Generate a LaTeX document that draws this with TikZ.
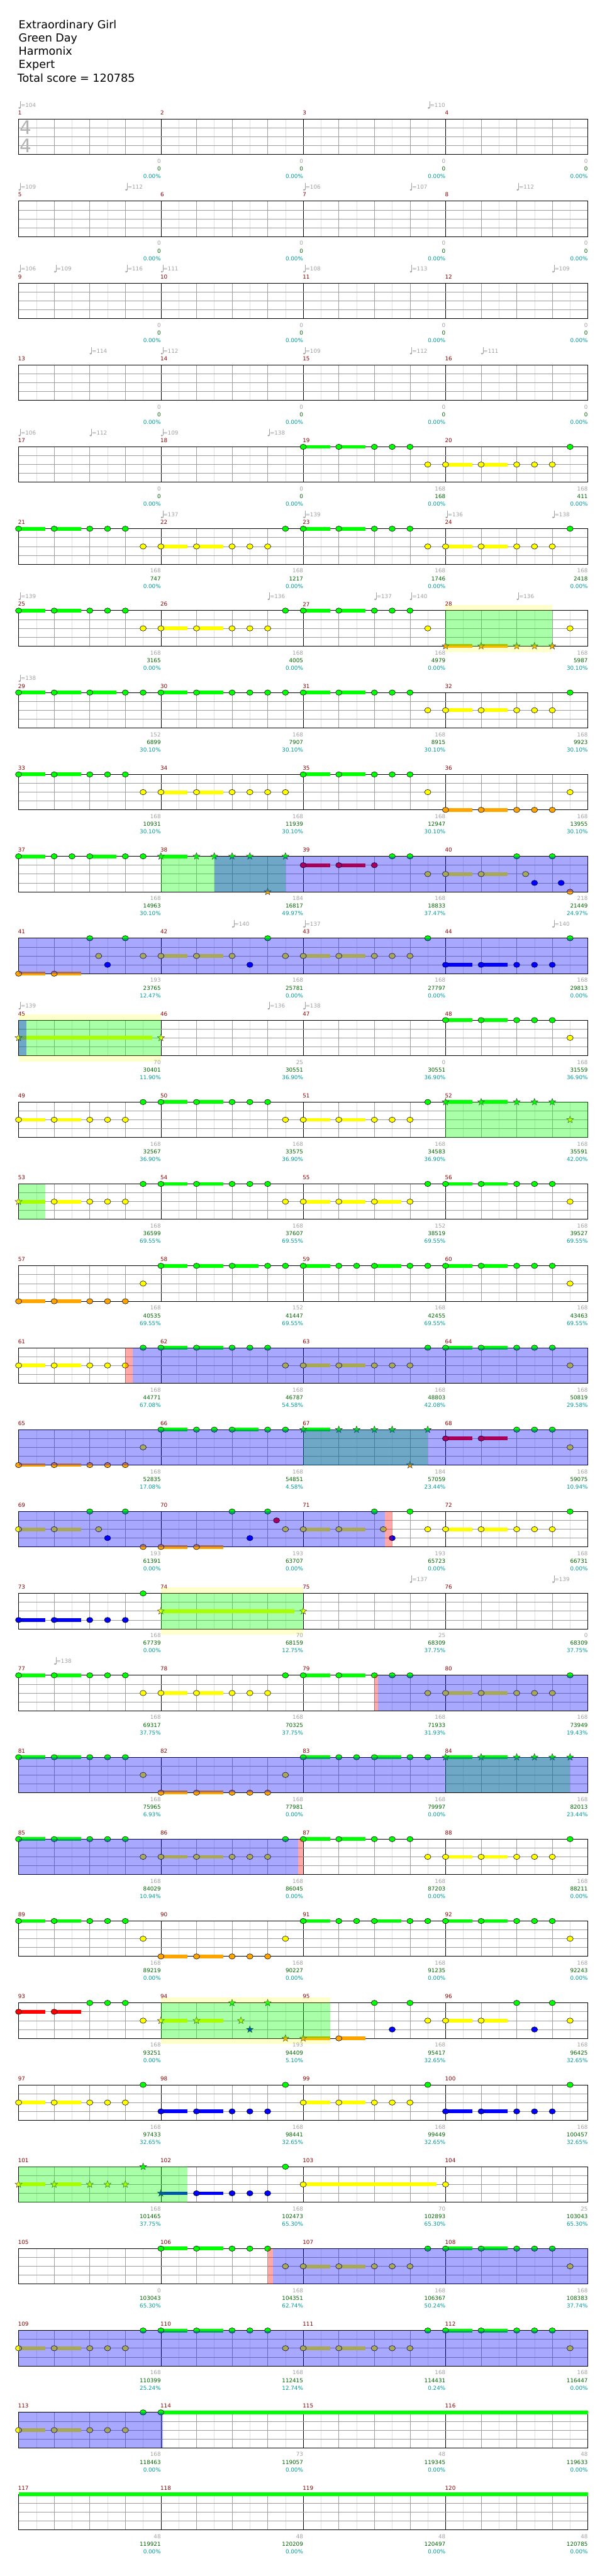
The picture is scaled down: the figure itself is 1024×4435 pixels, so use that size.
\documentclass[tikz,border=0pt]{standalone}
\usepackage{fontspec}
\setmainfont{DejaVu Sans}
\usetikzlibrary{shapes.geometric}

\definecolor{lane0}{RGB}{0,255,0}
\definecolor{lane1}{RGB}{255,0,0}
\definecolor{lane2}{RGB}{255,255,0}
\definecolor{lane3}{RGB}{0,0,255}
\definecolor{lane4}{RGB}{255,165,0}
\definecolor{barred}{RGB}{139,0,0}
\definecolor{softgray}{RGB}{160,160,160}
\definecolor{scoregreen}{RGB}{0,100,0}
\definecolor{pctteal}{RGB}{0,153,153}

% row r: staff top at 205.3+141(r-1), one eighth = 30.625
\newcommand{\frets}[2]{%
  \pgfmathsetmacro\rowy{205.3+141*(#1-1)}%
  \foreach \pos/\lane/\sus in {#2} {
    \pgfmathsetmacro\nx{32+30.625*\pos}
    \pgfmathsetmacro\ny{\rowy+15.25*\lane}
    \fill[lane\lane] (\nx,\ny-3.2) rectangle ({\nx+30.625*\sus},\ny+3.2);
    \draw[notehead,fill=lane\lane] (\nx,\ny) ellipse (5.4 and 4.6);
  }}
\newcommand{\spnotes}[2]{%
  \pgfmathsetmacro\rowy{205.3+141*(#1-1)}%
  \foreach \pos/\lane/\sus [count=\k] in {#2} {
    \pgfmathsetmacro\nx{32+30.625*\pos}
    \pgfmathsetmacro\ny{\rowy+15.25*\lane}
    \fill[lane\lane] (\nx,\ny-3.2) rectangle ({\nx+30.625*\sus},\ny+3.2);
    \node[spstar,fill=lane\lane] (sp#1-\k) at (\nx,\ny) {};
  }}
\newcommand{\paint}[4]{%
  \pgfmathsetmacro\rowy{205.3+141*(#1-1)}%
  \fill[#4] ({32+30.625*#2},\rowy) rectangle ({32+30.625*#3},\rowy+61);}
\newcommand{\yband}[3]{%
  \pgfmathsetmacro\rowy{205.3+141*(#1-1)}%
  \fill[bandfill] ({32+30.625*#2},\rowy-10) rectangle ({32+30.625*#3},\rowy);
  \fill[bandfill] ({32+30.625*#2},\rowy+61) rectangle ({32+30.625*#3},\rowy+71);}
\newcommand{\tempo}[3]{%
  \pgfmathsetmacro\rowy{205.3+141*(#1-1)}%
  \pgfmathsetmacro\tx{32+30.625*#2}%
  \fill[softgray] (\tx+1.6,\rowy-19.5) ellipse (1.9 and 1.5);
  \draw[softgray,line width=0.6pt] (\tx+3.2,\rowy-19.5) -- (\tx+3.2,\rowy-31);
  \node[bpmlabel] (bpm#1-#2) at (\tx+3.6,\rowy-24.3) {=#3};}
\newcommand{\scores}[2]{%
  \pgfmathsetmacro\rowy{205.3+141*(#1-1)}%
  \foreach \ga/\tot/\pc [count=\k] in {#2} {
    \node[gainlabel] (gain#1-\k) at ({32+245*\k},\rowy+72.4) {\ga};
    \node[scorelabel] (score#1-\k) at ({32+245*\k},\rowy+85.7) {\tot};
    \node[pctlabel] (pct#1-\k) at ({32+245*\k},\rowy+98.7) {\pc\%};
  }}

\begin{document}
\begin{tikzpicture}[x=1pt,y=-1pt,
  notehead/.style={draw=black,line width=0.6pt},
  spstar/.style={star,star points=5,star point ratio=2.4,minimum size=12.5pt,inner sep=0pt,draw=black!80,line width=0.5pt},
  act/.style={fill=lane3,fill opacity=0.34},
  phrase/.style={fill=lane0,fill opacity=0.34},
  spark/.style={fill=lane1,fill opacity=0.34},
  bandfill/.style={fill=lane2,fill opacity=0.2},
  eighthline/.style={draw=black!12,line width=0.5pt},
  beatline/.style={draw=black!38,line width=0.6pt},
  barline/.style={draw=black,line width=0.6pt},
  laneline/.style={draw=black!38,line width=0.8pt},
  staffframe/.style={draw=black,line width=1pt},
  smalltext/.style={font=\fontsize{9.5}{11}\selectfont,inner sep=0pt},
  barlabel/.style={smalltext,anchor=west,text=barred},
  gainlabel/.style={smalltext,anchor=east,text=softgray},
  scorelabel/.style={smalltext,anchor=east,text=scoregreen},
  pctlabel/.style={smalltext,anchor=east,text=pctteal},
  bpmlabel/.style={smalltext,anchor=west,text=softgray},
  heading/.style={anchor=base west,inner sep=0pt,font=\fontsize{19}{23}\selectfont},
  timesig/.style={inner sep=0pt,text=black!30,font=\fontsize{32}{32}\selectfont}]
\useasboundingbox (0,0) rectangle (1024,4435);

% header
\node[heading] (song) at (32,49) {Extraordinary Girl};
\node[heading] (artist) at (32,72) {Green Day};
\node[heading] (charter) at (32,95) {Harmonix};
\node[heading] (level) at (32,118) {Expert};
\node[heading] (total) at (30,141) {Total score = 120785};

% staves
\foreach \r in {1,...,30} {
  \pgfmathsetmacro\rowy{205.3+141*(\r-1)}
  \foreach \e in {1,3,...,31}
    \draw[eighthline] ({32+30.625*\e},\rowy) -- ++(0,61);
  \foreach \e in {2,4,6,10,12,14,18,20,22,26,28,30}
    \draw[beatline] ({32+30.625*\e},\rowy) -- ++(0,61);
  \foreach \e in {8,16,24}
    \draw[barline] ({32+30.625*\e},\rowy) -- ++(0,61);
  \foreach \h in {15.25,30.5,45.75}
    \draw[laneline] (32,\rowy+\h) -- (1012,\rowy+\h);
  \draw[staffframe] (32,\rowy) rectangle (1012,\rowy+61);
  \foreach \j [evaluate=\j as \m using int(4*(\r-1)+\j+1)] in {0,...,3}
    \node[barlabel] (bar\m) at ({31+245*\j},\rowy-11) {\m};
}
\node[timesig] (sigtop) at (44,220) {4};
\node[timesig] (sigbot) at (44,251) {4};

% tempo changes
\tempo{1}{0}{104} \tempo{1}{23}{110}
\tempo{2}{0}{109} \tempo{2}{6}{112} \tempo{2}{16}{106} \tempo{2}{22}{107} \tempo{2}{28}{112}
\tempo{3}{0}{106} \tempo{3}{2}{109} \tempo{3}{6}{116} \tempo{3}{8}{111} \tempo{3}{16}{108} \tempo{3}{22}{113} \tempo{3}{30}{109}
\tempo{4}{4}{114} \tempo{4}{8}{112} \tempo{4}{16}{109} \tempo{4}{22}{112} \tempo{4}{26}{111}
\tempo{5}{0}{106} \tempo{5}{4}{112} \tempo{5}{8}{109} \tempo{5}{14}{138}
\tempo{6}{8}{137} \tempo{6}{16}{139} \tempo{6}{24}{136} \tempo{6}{30}{138}
\tempo{7}{0}{139} \tempo{7}{14}{136} \tempo{7}{20}{137} \tempo{7}{22}{140} \tempo{7}{28}{136}
\tempo{8}{0}{138}
\tempo{11}{12}{140} \tempo{11}{16}{137} \tempo{11}{30}{140}
\tempo{12}{0}{139} \tempo{12}{14}{136} \tempo{12}{16}{138}
\tempo{19}{22}{137} \tempo{19}{30}{139}
\tempo{20}{2}{138}

% notes: position in eighths / lane / sustain
\frets{5}{16/0/1.5,18/0/1.5,20/0/0,21/0/0,22/0/0,31/0/0,
  23/2/0,24/2/1.5,26/2/1.5,28/2/0,29/2/0,30/2/0}
\frets{6}{0/0/1.5,2/0/1.5,4/0/0,5/0/0,6/0/0,15/0/0,16/0/1.5,18/0/1.5,20/0/0,21/0/0,22/0/0,31/0/0,
  7/2/0,8/2/1.5,10/2/1.5,12/2/0,13/2/0,14/2/0,23/2/0,24/2/1.5,26/2/1.5,28/2/0,29/2/0,30/2/0}
\frets{7}{0/0/1.5,2/0/1.5,4/0/0,5/0/0,6/0/0,15/0/0,16/0/1.5,18/0/1.5,20/0/0,21/0/0,22/0/0,
  7/2/0,8/2/1.5,10/2/1.5,12/2/0,13/2/0,14/2/0,23/2/0,31/2/0}
\spnotes{7}{24/4/1.5,26/4/1.5,28/4/0,29/4/0,30/4/0}
\frets{8}{0/0/1.5,2/0/1.5,4/0/1.5,6/0/0,7/0/0,8/0/1.5,10/0/1.5,12/0/0,13/0/0,14/0/0,15/0/0,16/0/1.5,18/0/1.5,20/0/0,21/0/0,22/0/0,31/0/0,
  23/2/0,24/2/1.5,26/2/1.5,28/2/0,29/2/0,30/2/0}
\frets{9}{0/0/1.5,2/0/1.5,4/0/0,5/0/0,6/0/0,16/0/1.5,18/0/1.5,20/0/0,21/0/0,22/0/0,
  7/2/0,8/2/1.5,10/2/1.5,12/2/0,13/2/0,14/2/0,15/2/0,23/2/0,31/2/0,
  24/4/1.5,26/4/1.5,28/4/0,29/4/0,30/4/0}
\frets{10}{0/0/1.5,2/0/0,3/0/0,4/0/1.5,6/0/0,7/0/0,21/0/0,22/0/0,28/0/0,30/0/0,
  16/1/1.5,18/1/1.5,20/1/0,23/2/0,24/2/1.5,26/2/1.5,28.5/2/0,29/3/0,30.5/3/0,31/4/0}
\spnotes{10}{8/0/1.5,10/0/0,11/0/0,12/0/0,13/0/0,15/0/0,14/4/0}
\frets{11}{0/4/1.5,2/4/1.5,4/0/0,6/0/0,14/0/0,23/0/0,31/0/0,
  4.5/2/0,7/2/0,8/2/1.5,10/2/1.5,12/2/0,15/2/0,16/2/1.5,18/2/1.5,20/2/0,21/2/0,22/2/0,
  5/3/0,13/3/0,24/3/1.5,26/3/1.5,28/3/0,29/3/0,30/3/0}
\frets{12}{24/0/1.5,26/0/1.5,28/0/0,29/0/0,30/0/0,31/2/0}
\spnotes{12}{0/2/7.5,8/2/0}
\frets{13}{0/2/1.5,2/2/1.5,4/2/0,5/2/0,6/2/0,15/2/0,16/2/1.5,18/2/1.5,20/2/0,21/2/0,22/2/0,
  7/0/0,8/0/1.5,10/0/1.5,12/0/0,13/0/0,14/0/0,23/0/0}
\spnotes{13}{24/0/1.5,26/0/1.5,28/0/0,29/0/0,30/0/0,31/2/0}
\frets{14}{2/2/1.5,4/2/0,5/2/0,6/2/0,15/2/0,16/2/1.5,18/2/1.5,20/2/1.5,22/2/0,31/2/0,
  7/0/0,8/0/1.5,10/0/1.5,12/0/0,13/0/0,14/0/0,23/0/0,24/0/1.5,26/0/1.5,28/0/0,29/0/0,30/0/0}
\spnotes{14}{0/2/1.5}
\frets{15}{0/4/1.5,2/4/1.5,4/4/0,5/4/0,6/4/0,7/2/0,31/2/0,
  8/0/1.5,10/0/1.5,12/0/1.5,14/0/0,15/0/0,16/0/1.5,18/0/0,19/0/0,20/0/1.5,22/0/0,23/0/0,24/0/1.5,26/0/1.5,28/0/0,29/0/0,30/0/0}
\frets{16}{0/2/1.5,2/2/1.5,4/2/0,5/2/0,6/2/0,15/2/0,16/2/1.5,18/2/1.5,20/2/0,21/2/0,22/2/0,31/2/0,
  7/0/0,8/0/1.5,10/0/1.5,12/0/0,13/0/0,14/0/0,23/0/0,24/0/1.5,26/0/1.5,28/0/0,29/0/0,30/0/0}
\frets{17}{0/4/1.5,2/4/1.5,4/4/0,5/4/0,6/4/0,7/2/0,31/2/0,
  8/0/1.5,10/0/0,11/0/0,12/0/1.5,14/0/0,15/0/0,28/0/0,29/0/0,30/0/0,24/1/1.5,26/1/1.5}
\spnotes{17}{16/0/1.5,18/0/0,19/0/0,20/0/0,21/0/0,23/0/0,22/4/0}
\frets{18}{0/2/1.5,2/2/1.5,4.5/2/0,15/2/0,16/2/1.5,18/2/1.5,20.5/2/0,23/2/0,24/2/1.5,26/2/1.5,28/2/0,29/2/0,30/2/0,
  4/0/0,6/0/0,12/0/0,14/0/0,20/0/0,22/0/0,31/0/0,5/3/0,13/3/0,21/3/0,
  7/4/0,8/4/1.5,10/4/1.5,14.5/1/0}
\frets{19}{0/3/1.5,2/3/1.5,4/3/0,5/3/0,6/3/0,7/0/0}
\spnotes{19}{8/2/7.5,16/2/0}
\frets{20}{0/0/1.5,2/0/1.5,4/0/0,5/0/0,6/0/0,15/0/0,16/0/1.5,18/0/1.5,20/0/0,21/0/0,22/0/0,31/0/0,
  7/2/0,8/2/1.5,10/2/1.5,12/2/0,13/2/0,14/2/0,23/2/0,24/2/1.5,26/2/1.5,28/2/0,29/2/0,30/2/0}
\frets{21}{0/0/1.5,2/0/1.5,4/0/0,5/0/0,6/0/0,16/0/1.5,18/0/0,19/0/0,20/0/1.5,22/0/0,23/0/0,
  7/2/0,15/2/0,8/4/1.5,10/4/1.5,12/4/0,13/4/0,14/4/0}
\spnotes{21}{24/0/1.5,26/0/1.5,28/0/0,29/0/0,30/0/0,31/0/0}
\frets{22}{0/0/1.5,2/0/1.5,4/0/0,5/0/0,6/0/0,15/0/0,16/0/1.5,18/0/1.5,20/0/0,21/0/0,22/0/0,31/0/0,
  7/2/0,8/2/1.5,10/2/1.5,12/2/0,13/2/0,14/2/0,23/2/0,24/2/1.5,26/2/1.5,28/2/0,29/2/0,30/2/0}
\frets{23}{0/0/1.5,2/0/1.5,4/0/0,5/0/0,6/0/0,16/0/1.5,18/0/0,19/0/0,20/0/1.5,22/0/0,23/0/0,24/0/1.5,26/0/1.5,28/0/0,29/0/0,30/0/0,
  7/2/0,15/2/0,31/2/0,8/4/1.5,10/4/1.5,12/4/0,13/4/0,14/4/0}
\frets{24}{0/1/1.5,2/1/1.5,4/0/0,5/0/0,6/0/0,20/0/0,22/0/0,28/0/0,30/0/0,
  7/2/0,23/2/0,24/2/1.5,26/2/1.5,31/2/0,21/3/0,29/3/0,18/4/1.5}
\spnotes{24}{12/0/0,14/0/0,8/2/1.5,10/2/1.5,12.5/2/0,13/3/0,15/4/0,16/4/1.5}
\frets{25}{0/2/1.5,2/2/1.5,4/2/0,5/2/0,6/2/0,16/2/1.5,18/2/1.5,20/2/0,21/2/0,22/2/0,
  7/0/0,15/0/0,23/0/0,31/0/0,
  8/3/1.5,10/3/1.5,12/3/0,13/3/0,14/3/0,24/3/1.5,26/3/1.5,28/3/0,29/3/0,30/3/0}
\frets{26}{10/3/1.5,12/3/0,13/3/0,14/3/0,15/0/0,16/2/7.5,24/2/0}
\spnotes{26}{0/2/1.5,2/2/1.5,4/2/0,5/2/0,6/2/0,7/0/0,8/3/1.5}
\frets{27}{8/0/1.5,10/0/1.5,12/0/0,13/0/0,14/0/0,23/0/0,24/0/1.5,26/0/1.5,28/0/0,29/0/0,30/0/0,
  15/2/0,16/2/1.5,18/2/1.5,20/2/0,21/2/0,22/2/0,31/2/0}
\frets{28}{0/2/1.5,2/2/1.5,4/2/0,5/2/0,6/2/0,15/2/0,16/2/1.5,18/2/1.5,20/2/0,21/2/0,22/2/0,31/2/0,
  7/0/0,8/0/1.5,10/0/1.5,12/0/0,13/0/0,14/0/0,23/0/0,24/0/1.5,26/0/1.5,28/0/0,29/0/0,30/0/0}
\frets{29}{0/2/1.5,2/2/1.5,4/2/0,5/2/0,6/2/0,7/0/0,8/0/24}
\fill[lane0] (32,4291.1) rectangle (1012,4297.5);

% star power phrases and activations
\yband{7}{24}{30}   \paint{7}{24}{30}{phrase}
\paint{10}{8}{15}{phrase} \paint{10}{11}{32}{act}
\paint{11}{0}{32}{act}
\yband{12}{0}{8}    \paint{12}{0}{8}{phrase} \paint{12}{0}{0.43}{act}
\paint{13}{24}{32}{phrase}
\paint{14}{0}{1.5}{phrase}
\paint{16}{6}{6.4}{spark} \paint{16}{6.4}{32}{act}
\paint{17}{16}{23}{phrase} \paint{17}{0}{32}{act}
\paint{18}{0}{20.6}{act} \paint{18}{20.6}{21}{spark}
\yband{19}{8}{16}   \paint{19}{8}{16}{phrase}
\paint{20}{20}{20.2}{spark} \paint{20}{20.2}{32}{act}
\paint{21}{24}{31}{phrase} \paint{21}{0}{32}{act}
\paint{22}{0}{15.7}{act} \paint{22}{15.7}{16}{spark}
\yband{24}{8}{17.5} \paint{24}{8}{17.5}{phrase}
\paint{26}{0}{9.5}{phrase}
\paint{27}{14}{14.3}{spark} \paint{27}{14.3}{32}{act}
\paint{28}{0}{32}{act}
\paint{29}{0}{8.1}{act}

% per-measure figures
\scores{1}{0/0/0.00,0/0/0.00,0/0/0.00,0/0/0.00}
\scores{2}{0/0/0.00,0/0/0.00,0/0/0.00,0/0/0.00}
\scores{3}{0/0/0.00,0/0/0.00,0/0/0.00,0/0/0.00}
\scores{4}{0/0/0.00,0/0/0.00,0/0/0.00,0/0/0.00}
\scores{5}{0/0/0.00,0/0/0.00,168/168/0.00,168/411/0.00}
\scores{6}{168/747/0.00,168/1217/0.00,168/1746/0.00,168/2418/0.00}
\scores{7}{168/3165/0.00,168/4005/0.00,168/4979/0.00,168/5987/30.10}
\scores{8}{152/6899/30.10,168/7907/30.10,168/8915/30.10,168/9923/30.10}
\scores{9}{168/10931/30.10,168/11939/30.10,168/12947/30.10,168/13955/30.10}
\scores{10}{168/14963/30.10,184/16817/49.97,168/18833/37.47,218/21449/24.97}
\scores{11}{193/23765/12.47,168/25781/0.00,168/27797/0.00,168/29813/0.00}
\scores{12}{70/30401/11.90,25/30551/36.90,0/30551/36.90,168/31559/36.90}
\scores{13}{168/32567/36.90,168/33575/36.90,168/34583/36.90,168/35591/42.00}
\scores{14}{168/36599/69.55,168/37607/69.55,152/38519/69.55,168/39527/69.55}
\scores{15}{168/40535/69.55,152/41447/69.55,168/42455/69.55,168/43463/69.55}
\scores{16}{168/44771/67.08,168/46787/54.58,168/48803/42.08,168/50819/29.58}
\scores{17}{168/52835/17.08,168/54851/4.58,184/57059/23.44,168/59075/10.94}
\scores{18}{193/61391/0.00,193/63707/0.00,193/65723/0.00,168/66731/0.00}
\scores{19}{168/67739/0.00,70/68159/12.75,25/68309/37.75,0/68309/37.75}
\scores{20}{168/69317/37.75,168/70325/37.75,168/71933/31.93,168/73949/19.43}
\scores{21}{168/75965/6.93,168/77981/0.00,168/79997/0.00,168/82013/23.44}
\scores{22}{168/84029/10.94,168/86045/0.00,168/87203/0.00,168/88211/0.00}
\scores{23}{168/89219/0.00,168/90227/0.00,168/91235/0.00,168/92243/0.00}
\scores{24}{168/93251/0.00,193/94409/5.10,168/95417/32.65,168/96425/32.65}
\scores{25}{168/97433/32.65,168/98441/32.65,168/99449/32.65,168/100457/32.65}
\scores{26}{168/101465/37.75,168/102473/65.30,70/102893/65.30,25/103043/65.30}
\scores{27}{0/103043/65.30,168/104351/62.74,168/106367/50.24,168/108383/37.74}
\scores{28}{168/110399/25.24,168/112415/12.74,168/114431/0.24,168/116447/0.00}
\scores{29}{168/118463/0.00,73/119057/0.00,48/119345/0.00,48/119633/0.00}
\scores{30}{48/119921/0.00,48/120209/0.00,48/120497/0.00,48/120785/0.00}
\end{tikzpicture}
\end{document}
